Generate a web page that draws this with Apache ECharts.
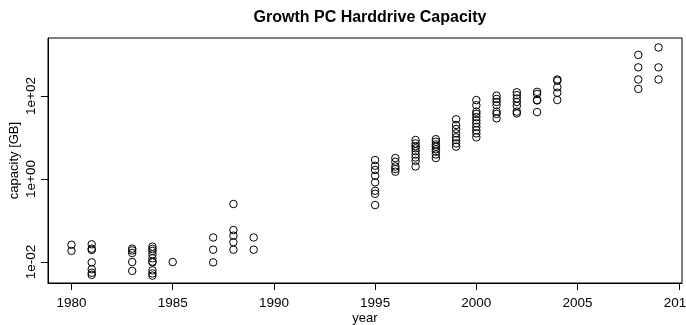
<!DOCTYPE html>
<html><head><meta charset="utf-8">
<script src="https://cdn.jsdelivr.net/npm/echarts@6/dist/echarts.min.js"></script>
<style>html,body{margin:0;padding:0;background:#fff}#c{width:686px;height:325px}</style>
</head><body><div id="c"></div>
<script>
// Capacity in GB per year
const years = [1980, 1981, 1983, 1984, 1985, 1987, 1988, 1989, 1995, 1996, 1997, 1998, 1999, 2000, 2001, 2002, 2003, 2004, 2008, 2009];
const cap1980 = [0.026, 0.0185];
const cap1981 = [0.0267, 0.021, 0.0195, 0.0098, 0.0067, 0.0055, 0.0049];
const cap1983 = [0.021, 0.019, 0.0165, 0.010, 0.0061];
const cap1984 = [0.0234, 0.0206, 0.0184, 0.0153, 0.0123, 0.0102, 0.0098, 0.0063, 0.0053, 0.0047];
const cap1985 = [0.010];
const cap1987 = [0.039, 0.0198, 0.0098];
const cap1988 = [0.25, 0.059, 0.043, 0.030, 0.0198];
const cap1989 = [0.039, 0.0198];
const cap1995 = [2.87, 2.09, 1.65, 1.2, 0.83, 0.52, 0.44, 0.236];
const cap1996 = [3.2, 2.6, 2.0, 1.74, 1.5];
const cap1997 = [8.7, 7.2, 6.2, 5.5, 4.7, 3.9, 3.3, 2.75, 2.0];
const cap1998 = [9.1, 7.9, 6.8, 6.0, 5.2, 4.6, 3.9, 3.2];
const cap1999 = [27.5, 20, 16, 12.6, 10.1, 8.7, 7.2, 6.0];
const cap2000 = [80, 60, 42, 37, 31, 26, 22, 18, 15, 12.6, 10.1];
const cap2001 = [102, 85, 72, 60, 42, 37, 29];
const cap2002 = [123, 105, 87, 72, 58, 42, 38];
const cap2003 = [126, 112, 80, 78, 41];
const cap2004 = [250, 234, 162, 120, 80];
const cap2008 = [980, 490, 250, 148];
const cap2009 = [1480, 490, 250];
const capacities = [cap1980, cap1981, cap1983, cap1984, cap1985, cap1987, cap1988, cap1989, cap1995, cap1996, cap1997, cap1998, cap1999, cap2000, cap2001, cap2002, cap2003, cap2004, cap2008, cap2009];

const xTicks = [1980, 1985, 1990, 1995, 2000, 2005, 2010];
const yTicks = [0.01, 1, 100];
const yTickLabels = ['1e-02', '1e+00', '1e+02'];

const points = [];
years.forEach((y, i) => capacities[i].forEach(v => points.push([y, Math.log10(v)])));
const yTickLog = yTicks.map(v => Math.log10(v));
const labelMap = {};
yTickLog.forEach((t, i) => labelMap[t.toFixed(3)] = yTickLabels[i]);

const FONT = '"Liberation Sans", Arial, Helvetica, sans-serif';
const chart = echarts.init(document.getElementById('c'), null, {renderer: 'canvas'});
chart.setOption({
  animation: false,
  backgroundColor: '#fff',
  title: {
    text: 'Growth PC Harddrive Capacity',
    left: 365, top: 5, textAlign: 'center',
    textStyle: {fontFamily: FONT, fontSize: 16, fontWeight: 'bold', color: '#000'}
  },
  grid: {left: 48, right: 4, top: 38, bottom: 42, show: true, borderColor: '#000', borderWidth: 1,
    backgroundColor: 'transparent', containLabel: false, outerBoundsMode: 'none'},
  xAxis: {
    type: 'value', min: 1978.84, max: 2010.16,
    name: 'year', nameLocation: 'middle', nameGap: 29, nameMoveOverlap: false,
    nameTextStyle: {fontFamily: FONT, fontSize: 13, color: '#000'},
    axisLine: {show: true, onZero: false, lineStyle: {color: '#000', width: 1}},
    splitLine: {show: false},
    axisTick: {show: true, inside: false, length: 7, lineStyle: {color: '#000', width: 1}, customValues: xTicks},
    axisLabel: {fontFamily: FONT, fontSize: 13.5, color: '#000', margin: 13, customValues: xTicks,
      alignMinLabel: 'center', alignMaxLabel: 'center', hideOverlap: false, formatter: v => String(v)}
  },
  yAxis: {
    type: 'value', min: -2.506, max: 3.398,
    name: 'capacity [GB]', nameLocation: 'middle', nameGap: 27, nameMoveOverlap: false,
    nameTextStyle: {fontFamily: FONT, fontSize: 13, color: '#000'},
    axisLine: {show: true, onZero: false, lineStyle: {color: '#000', width: 1}},
    splitLine: {show: false},
    axisTick: {show: true, inside: false, length: 7, lineStyle: {color: '#000', width: 1}, customValues: yTickLog},
    axisLabel: {fontFamily: FONT, fontSize: 13.5, color: '#000', margin: 10, rotate: 90, customValues: yTickLog,
      alignMinLabel: 'center', alignMaxLabel: 'center',
      formatter: v => labelMap[Number(v).toFixed(3)] || ''}
  },
  series: [{
    type: 'scatter',
    data: points,
    symbol: 'circle',
    symbolSize: 7.5,
    itemStyle: {color: 'rgba(0,0,0,0)', borderColor: '#000', borderWidth: 1, opacity: 1},
    emphasis: {disabled: true}
  }]
});
</script></body></html>
